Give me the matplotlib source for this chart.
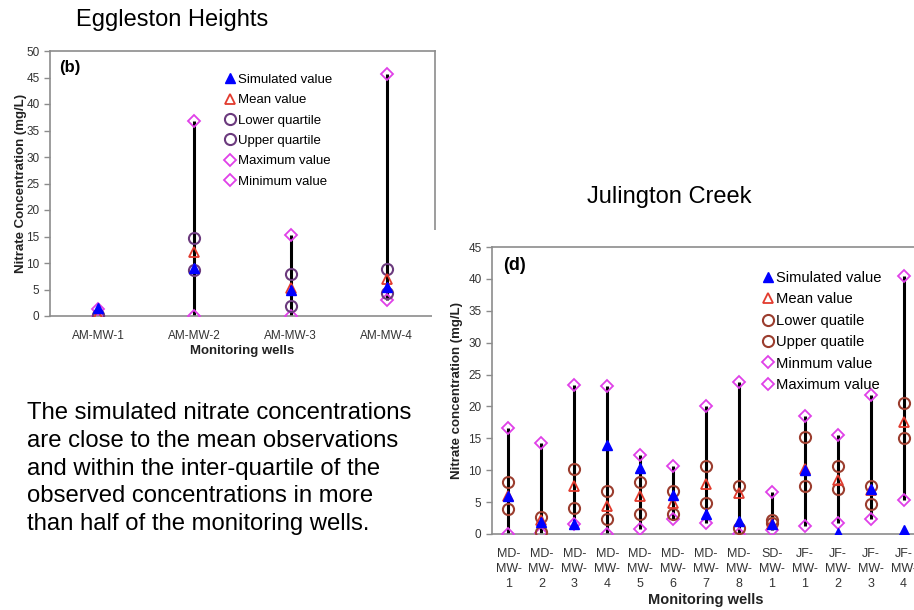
import matplotlib
matplotlib.use("Agg")
from matplotlib import pyplot as plt
from matplotlib.patches import Rectangle

plt.rcParams["font.family"] = ["Liberation Sans", "DejaVu Sans"]

# Eggleston Heights (b)
wells_b = ["AM-MW-1", "AM-MW-2", "AM-MW-3", "AM-MW-4"]
sim_b = [1.6, 9.1, 4.9, 5.4]
mean_b = [0.2, 12.1, 5.3, 6.9]
lq_b = [0.0, 8.7, 1.9, 4.4]
uq_b = [0.2, 14.8, 7.9, 8.8]
max_b = [1.4, 36.8, 15.2, 45.7]
min_b = [0.0, 0.0, 0.0, 3.0]

# Julington Creek (d)
wells_d = ["MD-\nMW-\n1", "MD-\nMW-\n2", "MD-\nMW-\n3", "MD-\nMW-\n4", "MD-\nMW-\n5",
           "MD-\nMW-\n6", "MD-\nMW-\n7", "MD-\nMW-\n8", "SD-\nMW-\n1", "JF-\nMW-\n1",
           "JF-\nMW-\n2", "JF-\nMW-\n3", "JF-\nMW-\n4"]
sim_d = [6.0, 1.9, 1.6, 14.0, 10.4, 6.1, 3.2, 2.0, 1.5, 10.0, 0.1, 7.0, 0.7]
mean_d = [5.9, 2.2, 7.6, 4.4, 6.0, 4.8, 7.9, 6.4, 1.6, 10.2, 8.4, 6.9, 17.6]
lq_d = [3.9, 0.3, 4.1, 2.3, 3.2, 3.1, 4.8, 0.9, 1.7, 7.5, 7.0, 4.7, 15.0]
uq_d = [8.1, 2.7, 10.2, 6.7, 8.1, 6.8, 10.6, 7.6, 2.2, 15.2, 10.7, 7.6, 20.6]
min_d = [0.0, 0.1, 1.5, 0.0, 0.8, 2.3, 1.8, 0.0, 0.6, 1.3, 1.7, 2.3, 5.3]
max_d = [16.6, 14.2, 23.3, 23.2, 12.4, 10.7, 20.1, 23.9, 6.6, 18.5, 15.5, 21.8, 40.5]

BLUE = "#0000ff"
RED = "#e23b2e"
MAGENTA = "#e040e8"
TICK = "#333333"
SPINE = "#8c8c8c"


def panel(ax, wells, sim, mean, lq, uq, vmin, vmax, qcolor, labels, ymax,
          tag, ylabel, legfs, legpos, legsp, xfs, xpad, ylpad, tagfs):
    x = list(range(1, len(wells) + 1))
    ax.vlines(x, vmin, vmax, color="black", lw=2.2, zorder=2)
    h_sim, = ax.plot(x, sim, "^", color=BLUE, ms=7, ls="none", zorder=6)
    h_mean, = ax.plot(x, mean, "^", mfc="none", mec=RED, mew=1.3, ms=7.5, ls="none", zorder=5)
    h_lq, = ax.plot(x, lq, "o", mfc="none", mec=qcolor, mew=1.5, ms=8, ls="none", zorder=4)
    h_uq, = ax.plot(x, uq, "o", mfc="none", mec=qcolor, mew=1.5, ms=8, ls="none", zorder=4)
    h_max, = ax.plot(x, vmax, "D", mfc="none", mec=MAGENTA, mew=1.3, ms=6, ls="none", zorder=3)
    h_min, = ax.plot(x, vmin, "D", mfc="none", mec=MAGENTA, mew=1.3, ms=6, ls="none", zorder=3)
    handles = [h_sim, h_mean, h_lq, h_uq, h_max, h_min]
    if labels[4].startswith("Min"):
        handles = [h_sim, h_mean, h_lq, h_uq, h_min, h_max]
    ax.set_xlim(0.5, len(wells) + 0.5)
    ax.set_ylim(0, ymax)
    ax.set_yticks(range(0, ymax + 1, 5))
    ax.set_xticks(x)
    ax.set_xticklabels(wells)
    for t in ax.get_xticklabels():
        t.set_linespacing(1.35)
    ax.tick_params(axis="x", length=0, pad=xpad, labelsize=xfs, colors=TICK)
    ax.tick_params(axis="y", length=4, width=1, color=SPINE, labelsize=8.5, labelcolor=TICK)
    for side in ["left", "right", "top", "bottom"]:
        ax.spines[side].set_color(SPINE)
        ax.spines[side].set_linewidth(1.2)
    ax.set_xlabel("Monitoring wells", fontweight="bold", fontsize=9.5, color="#222222", labelpad=2)
    ax.set_ylabel(ylabel, fontweight="bold", fontsize=9.5, color="#222222", labelpad=ylpad)
    ax.text(0.025, 0.965, tag, transform=ax.transAxes, fontweight="bold",
            fontsize=tagfs, va="top", ha="left")
    ax.legend(handles, labels, loc="upper left", bbox_to_anchor=legpos, frameon=False,
              fontsize=legfs, handlelength=0.6, handletextpad=0.25, labelspacing=legsp,
              borderaxespad=0, borderpad=0)


fig = plt.figure(figsize=(9.14, 6.10), dpi=100)
W, H = 914, 610

ax1 = fig.add_axes([50 / W, 1 - 316 / H, 385 / W, 265 / H])
panel(ax1, wells_b, sim_b, mean_b, lq_b, uq_b, min_b, max_b, "#6b3a7d",
      ["Simulated value", "Mean value", "Lower quartile", "Upper quartile",
       "Maximum value", "Minimum value"],
      50, "(b)", "Nitrate Concentration (mg/L)", 9.5, (0.458, 0.915), 0.62,
      8.5, 10, -0.5, 12)

# white backdrop of the second figure, overlapping the first one
fig.add_artist(Rectangle((432 / W, 0), 1, 1 - 230 / H, transform=fig.transFigure,
                         facecolor="white", edgecolor="none", zorder=1))

ax2 = fig.add_axes([492 / W, 1 - 534 / H, 428 / W, 287 / H])
ax2.set_zorder(2)
panel(ax2, wells_d, sim_d, mean_d, lq_d, uq_d, min_d, max_d, "#9b3d2e",
      ["Simulated value", "Mean value", "Lower quatile", "Upper quatile",
       "Minmum value", "Maximum value"],
      45, "(d)", "Nitrate concentration (mg/L)", 10.6, (0.635, 0.916), 0.5,
      9, 10, 4, 13)
ax2.xaxis.label.set_fontsize(10.5)

fig.text(172 / W, 1 - 20 / H, "Eggleston Heights", fontsize=17, ha="center", va="center")
fig.text(669 / W, 1 - 197 / H, "Julington Creek", fontsize=17, ha="center", va="center")
fig.text(27 / W, 1 - 402 / H,
         "The simulated nitrate concentrations\nare close to the mean observations\n"
         "and within the inter-quartile of the\nobserved concentrations in more\n"
         "than half of the monitoring wells.",
         fontsize=17.2, ha="left", va="top", linespacing=1.34)

fig.savefig("out.png", dpi=100)
